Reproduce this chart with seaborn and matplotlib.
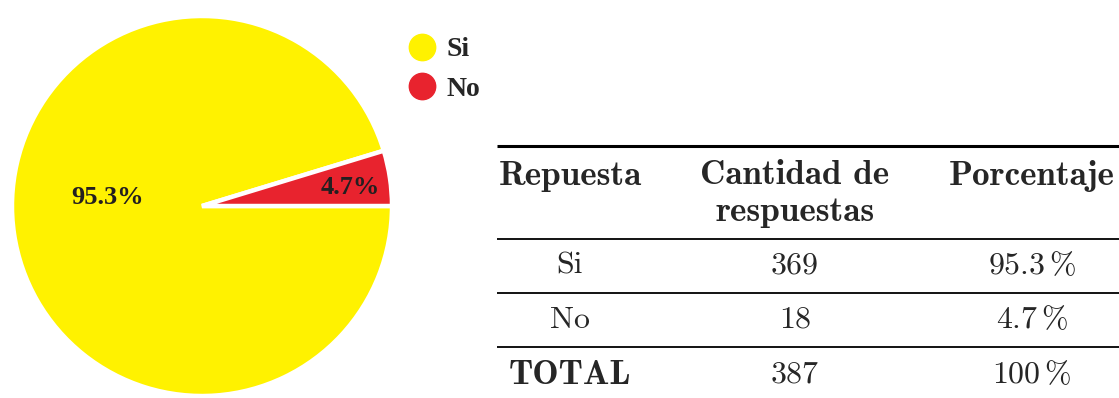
import matplotlib
matplotlib.use("Agg")
import matplotlib.pyplot as plt
from matplotlib.lines import Line2D
import seaborn as sns

# Survey answers
respuestas = ["Si", "No"]
cantidades = [369, 18]
porcentajes = [95.3, 4.7]
total_cantidad = 387
total_porcentaje = 100
colores = ["#FFF200", "#E8232E"]

encabezados = ["Repuesta", "Cantidad de", "respuestas", "Porcentaje"]

sns.set_theme(style="white")
plt.rcParams["mathtext.fontset"] = "cm"

W, H = 1119, 398
fig = plt.figure(figsize=(W / 100, H / 100), dpi=100)

# ---- pie chart ----
cx, cy, r = 202, 206, 190
ax = fig.add_axes([(cx - r) / W, (H - cy - r) / H, 2 * r / W, 2 * r / H])
start = 360 * porcentajes[1] / sum(porcentajes)
wedges, _, autotexts = ax.pie(
    porcentajes,
    colors=colores,
    startangle=start,
    counterclock=True,
    autopct=lambda p: f"{p:.1f}%",
    pctdistance=0.84,
    wedgeprops=dict(edgecolor="white", linewidth=3.2),
    textprops=dict(family="Liberation Serif", weight="bold",
                   fontsize=19, color="#231f20"),
)
ax.set_xlim(-1, 1)
ax.set_ylim(-1, 1)
ax.set_aspect("equal")
# large slice label sits left of the centre
autotexts[0].set_position((-0.495, 0.045))
autotexts[1].set_position((0.78, 0.095))

handles = [Line2D([], [], marker="o", linestyle="none", markersize=19,
                  markerfacecolor=c, markeredgecolor=c) for c in colores]
fig.legend(handles, respuestas, loc="upper left",
           bbox_to_anchor=(408 / W, 1 - 37 / H),
           frameon=False, handlelength=1.0, handletextpad=0.4,
           labelspacing=0.5, borderpad=0, borderaxespad=0,
           prop=dict(family="Liberation Serif", weight="bold", size=20))

# ---- table ----
tab = fig.add_axes([0, 0, 1, 1])
tab.set_xlim(0, W)
tab.set_ylim(H, 0)
tab.axis("off")
tab.patch.set_alpha(0)

x0, x1 = 497, W
tab.hlines(146, x0, x1, color="black", linewidth=2.2)
for yl in (239, 293, 347):
    tab.hlines(yl, x0, x1, color="black", linewidth=1.3)

fs = 23
fs_b = 25.3
col_x = [570, 795, 1032]
tab.text(570, 176, encabezados[0], ha="center", va="center",
         family="cmb10", fontsize=fs_b)
tab.text(795, 176, encabezados[1], ha="center", va="center",
         family="cmb10", fontsize=fs_b)
tab.text(795, 213, encabezados[2], ha="center", va="center",
         family="cmb10", fontsize=fs_b)
tab.text(1032, 176, encabezados[3], ha="center", va="center",
         family="cmb10", fontsize=fs_b)

row_y = [266, 320]
for y, resp, cant, pct in zip(row_y, respuestas, cantidades, porcentajes):
    tab.text(col_x[0], y, resp, ha="center", va="center",
             family="cmr10", fontsize=fs)
    tab.text(col_x[1], y, f"{cant}", ha="center", va="center",
             family="cmr10", fontsize=fs)
    tab.text(col_x[2], y, rf"${pct:.1f}\,\%$", ha="center", va="center",
             fontsize=fs)

tab.text(col_x[0], 375, "TOTAL", ha="center", va="center",
         family="cmb10", fontsize=fs_b)
tab.text(col_x[1], 375, f"{total_cantidad}", ha="center", va="center",
         family="cmr10", fontsize=fs)
tab.text(col_x[2], 375, rf"${total_porcentaje}\,\%$", ha="center",
         va="center", fontsize=fs)

fig.savefig("out.png", dpi=100, facecolor="white")
